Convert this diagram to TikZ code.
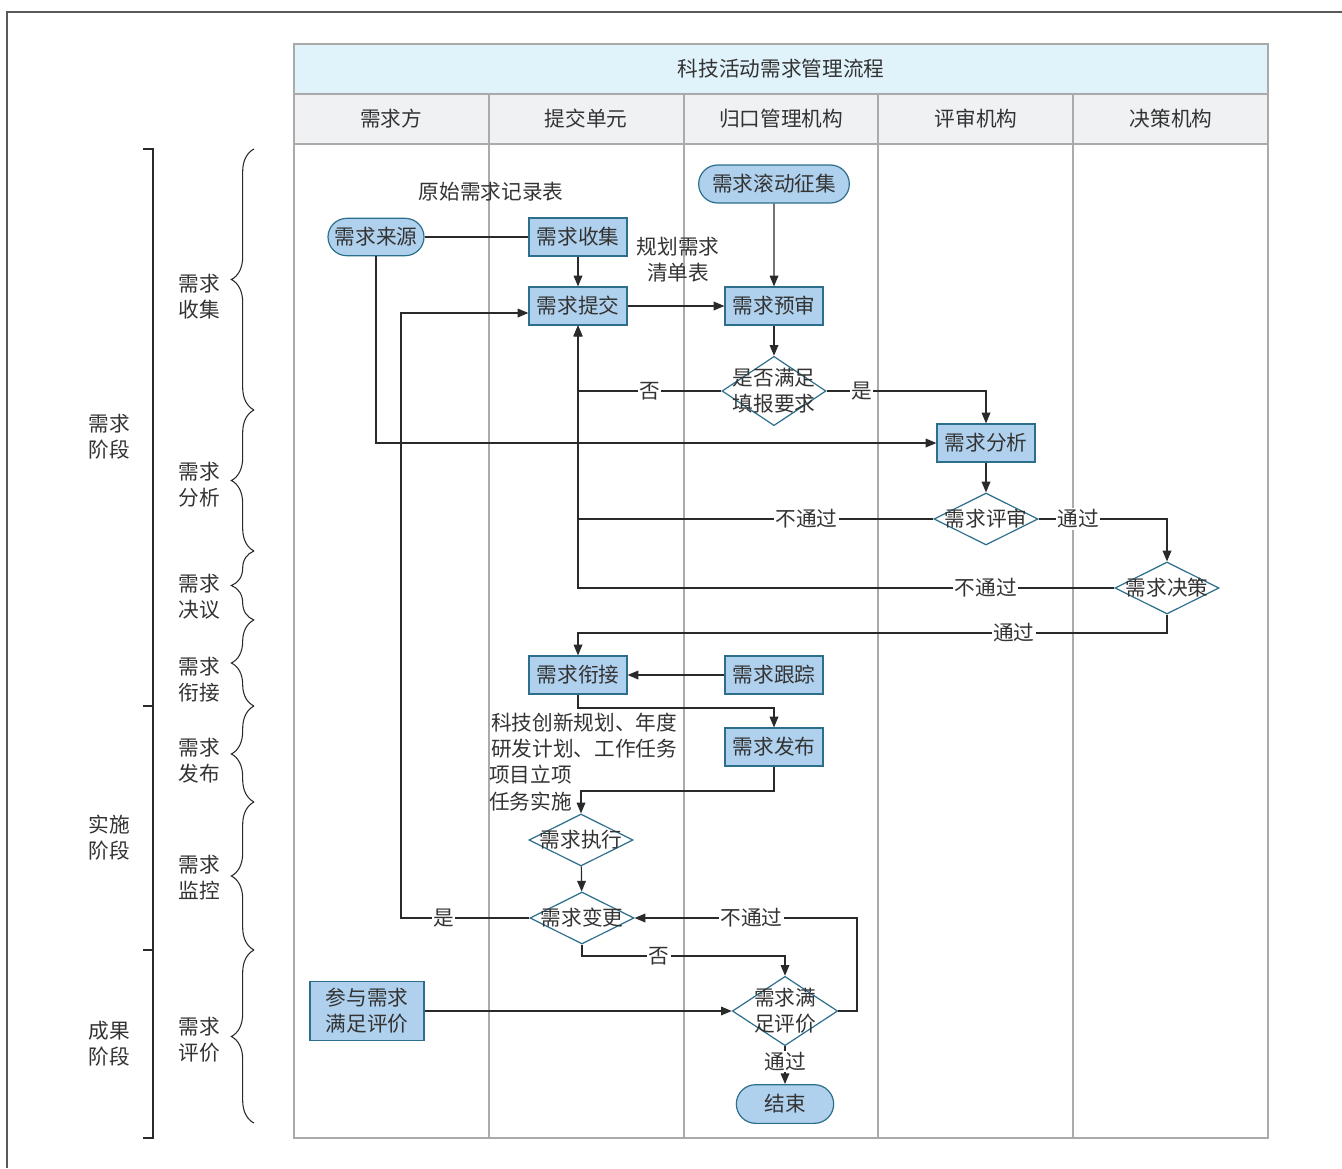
\documentclass[tikz,border=0pt]{standalone}
\usepackage{fontspec}
\setmainfont{Noto Sans CJK SC}
\usetikzlibrary{arrows.meta,shapes.geometric,shapes.misc,decorations.pathreplacing,calc}
\definecolor{nodefill}{HTML}{B0D1EE}
\definecolor{nodeline}{HTML}{2C6E8C}
\definecolor{titlefill}{HTML}{E0F2FA}
\definecolor{headfill}{HTML}{F0F1F3}
\definecolor{gridline}{HTML}{AAAAAA}
\definecolor{txtc}{HTML}{333333}
\definecolor{wire}{HTML}{2A2A2A}
\tikzset{
  proc/.style={draw=nodeline, fill=nodefill, line width=0.9pt, rectangle, inner sep=0pt, minimum width=73.5pt, minimum height=28.5pt, align=center},
  term/.style={draw=nodeline, fill=nodefill, line width=0.9pt, rounded rectangle, inner sep=0pt, minimum width=72pt, minimum height=28pt},
  dec/.style={draw=nodeline, fill=white, line width=0.9pt, diamond, inner sep=0pt, minimum width=78pt, minimum height=39pt},
  lbl/.style={fill=white, inner sep=1pt},
  arr/.style={draw=wire, line width=0.9pt, -{Triangle[length=8pt,width=6.5pt]}},
  wireln/.style={draw=wire, line width=0.9pt},
  sidelbl/.style={align=center},
  brc/.style={draw=wire, line width=0.8pt, decorate, decoration={brace, amplitude=17pt}},
}
\begin{document}
\begin{tikzpicture}[x=0.75pt, y=-0.75pt, font=\fontsize{15.5}{19.5}\selectfont, text=txtc]
\useasboundingbox (0,0) rectangle (1342,1168);
% outer frame
\draw[gray!70!black, line width=1pt] (7,1168) -- (7,12) -- (1342,12);
% table
\fill[titlefill] (294,44) rectangle (1268,94);
\fill[headfill] (294,94) rectangle (1268,144);
\draw[gridline, line width=0.9pt] (294,44) rectangle (1268,1138);
\draw[gridline, line width=0.9pt] (294,94) -- (1268,94) (294,144) -- (1268,144);
\foreach \xx in {489,684,878,1073} \draw[gridline, line width=0.9pt] (\xx,94) -- (\xx,1138);
\node (title) at (781,69) {科技活动需求管理流程};
\node (h1) at (391,119) {需求方};
\node (h2) at (586,119) {提交单元};
\node (h3) at (781,119) {归口管理机构};
\node (h4) at (976,119) {评审机构};
\node (h5) at (1171,119) {决策机构};
% outer bracket
\draw[wire, line width=0.9pt] (143,149) -- (153,149) -- (153,1138) -- (143,1138);
\draw[wire, line width=0.9pt] (143,706) -- (153,706) (143,950) -- (153,950);
\node[sidelbl] (p1) at (109,437) {需求\\阶段};
\node[sidelbl] (p2) at (109,838) {实施\\阶段};
\node[sidelbl] (p3) at (109,1044) {成果\\阶段};
% braces
\draw[brc] (254,410) -- (254,149);
\draw[brc] (254,551) -- (254,410);
\draw[brc] (254,620) -- (254,551);
\draw[brc] (254,706) -- (254,620);
\draw[brc] (254,802) -- (254,706);
\draw[brc] (254,950) -- (254,802);
\draw[brc] (254,1123) -- (254,950);
\node[sidelbl] (s1) at (199,297) {需求\\收集};
\node[sidelbl] (s2) at (199,485) {需求\\分析};
\node[sidelbl] (s3) at (199,597) {需求\\决议};
\node[sidelbl] (s4) at (199,680) {需求\\衔接};
\node[sidelbl] (s5) at (199,761) {需求\\发布};
\node[sidelbl] (s6) at (199,878) {需求\\监控};
\node[sidelbl] (s7) at (199,1040) {需求\\评价};
% helper coordinates
\coordinate (y313) at (0,313);
\coordinate (y633) at (0,633);
\coordinate (y708) at (0,708);
\coordinate (y791) at (0,791);
\coordinate (y956) at (0,956);
\coordinate (x401) at (401,0);
\coordinate (x857) at (857,0);
% nodes
\node[term] (src) at (376,237) {需求来源};
\node[proc] (col) at (578,237) {需求收集};
\node[proc] (sub) at (578,306) {需求提交};
\node[term, minimum width=113pt, minimum height=28.5pt] (roll) at (774,184) {需求滚动征集};
\node[proc] (pre) at (774,306) {需求预审};
\node[dec, minimum height=52pt, label={[align=center]center:是否满足\\填报要求}] (chk) at (774,391) {};
\node[proc] (ana) at (986,443) {需求分析};
\node[dec, label={center:需求评审}] (rev) at (986,519) {};
\node[dec, label={center:需求决策}] (dcs) at (1167,588) {};
\node[proc] (link) at (578,675) {需求衔接};
\node[proc] (track) at (774,675) {需求跟踪};
\node[proc] (pub) at (774,747) {需求发布};
\node[dec, label={center:需求执行}] (exe) at (581,840) {};
\node[dec, label={center:需求变更}] (chg) at (582,918) {};
\node[dec, minimum width=79pt, minimum height=52pt, label={[align=center]center:需求满\\足评价}] (sat) at (785,1011) {};
\node[term, minimum width=73pt, minimum height=29pt] (end) at (785,1104) {结束};
\node[proc, minimum width=85.5pt, minimum height=44pt] (part) at (367,1011) {参与需求\\满足评价};
% free texts
\node (t1) at (491,192) {原始需求记录表};
\node[align=center] (t2) at (678,260) {规划需求\\清单表};
\node[anchor=west, align=left, inner sep=0pt] (t3) at (491,736) {科技创新规划、年度\\研发计划、工作任务};
\node[anchor=west, inner sep=0pt] (t4) at (489,775) {项目立项};
\node[anchor=west, inner sep=0pt] (t5) at (489,802) {任务实施};
% connectors
\draw[wireln] (src.east) -- (col.west);
\draw[arr] (col) -- (sub);
\draw[arr] (sub.east) -- (pre.west);
\draw[arr] (roll) -- (pre);
\draw[arr] (pre) -- (chk);
\draw[arr] (chk.west) -- node[lbl]{否} (chk.west -| sub.south) -- (sub.south);
\draw[arr] (chk.east) -- node[lbl, pos=0.22]{是} (chk.east -| ana.north) -- (ana.north);
\draw[arr] (src.south) |- (ana.west);
\draw[arr] (ana) -- (rev);
\draw[arr] (rev.west) -- node[lbl, pos=0.357]{不通过} (rev.west -| sub.south) -- (sub.south);
\draw[arr] (rev.east) -- node[lbl, pos=0.31]{通过} (rev.east -| dcs.north) -- (dcs.north);
\draw[arr] (dcs.west) -- node[lbl, pos=0.24]{不通过} (dcs.west -| sub.south) -- (sub.south);
\draw[arr] (dcs.south) -- (dcs.south |- y633) -- node[lbl, pos=0.26]{通过} (link.north |- y633) -- (link.north);
\draw[arr] (track.west) -- (link.east);
\draw[arr] (link.south) -- (link.south |- y708) -- (pub.north |- y708) -- (pub.north);
\draw[arr] (pub.south) -- (pub.south |- y791) -- (exe.north |- y791) -- (exe.north);
\draw[arr] (exe) -- (chg);
\draw[arr] (chg.west) -- node[lbl, pos=0.67]{是} (chg.west -| x401) -- (x401 |- y313) -- (sub.west |- y313);
\draw[arr] (chg.south) -- (chg.south |- y956) -- node[lbl, pos=0.38]{否} (sat.north |- y956) -- (sat.north);
\draw[arr] (part.east) -- (sat.west);
\draw[arr] (sat.east) -- (sat.east -| x857) -- (x857 |- chg.east) -- node[lbl, pos=0.475]{不通过} (chg.east);
\draw[arr] (sat.south) -- node[lbl, pos=0.4]{通过} (end.north);
\end{tikzpicture}
\end{document}
